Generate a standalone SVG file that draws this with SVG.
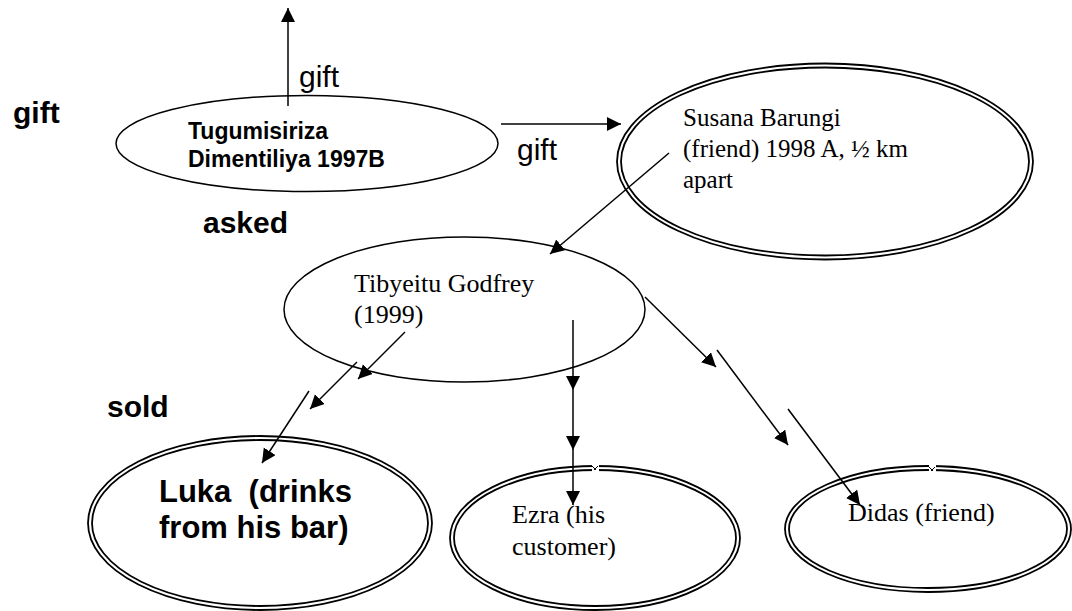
<svg xmlns="http://www.w3.org/2000/svg" width="1072" height="611" viewBox="0 0 1072 611">
<style>
.bg{fill:#fff}
.e1{fill:none;stroke:#000;stroke-width:1.5}
.e2{fill:none;stroke:#000;stroke-width:1.8}
.ln{fill:none;stroke:#000;stroke-width:1.5;marker-end:url(#ah)}
.sb{font-family:"Liberation Sans",Arial,sans-serif;font-weight:bold;fill:#000}
.sr{font-family:"Liberation Sans",Arial,sans-serif;fill:#000}
.tr{font-family:"Liberation Serif","Times New Roman",serif;fill:#000}
.notch{fill:#fff;stroke:none}
.nl{fill:none;stroke:#000;stroke-width:1}
</style>
<defs>
<marker id="ah" markerUnits="userSpaceOnUse" markerWidth="16" markerHeight="16" refX="14" refY="7" orient="auto">
<path d="M0,0 L14,7 L0,14 Z" fill="#000"/>
</marker>
</defs>
<rect class="bg" x="0" y="0" width="1072" height="611"/>

<g id="labels">
<text class="sb" x="13" y="123" font-size="30">gift</text>
<text class="sr" x="299" y="87" font-size="30">gift</text>
<text class="sr" x="517" y="160" font-size="30">gift</text>
<text class="sb" x="203" y="233" font-size="30">asked</text>
<text class="sb" x="107" y="417" font-size="30">sold</text>
</g>

<g id="node-tugumisiriza">
<ellipse class="e1" cx="307" cy="143.5" rx="191" ry="48"/>
<text class="sb" font-size="23"><tspan x="188" y="139">Tugumisiriza</tspan><tspan x="188" y="167">Dimentiliya 1997B</tspan></text>
</g>

<g id="node-susana">
<ellipse class="e2" cx="825" cy="161.5" rx="208" ry="98"/>
<ellipse class="e2" cx="825" cy="161.5" rx="204" ry="94"/>
<text class="tr" font-size="25"><tspan x="683" y="126">Susana Barungi</tspan><tspan x="683" y="157">(friend) 1998 A, ½ km</tspan><tspan x="683" y="188">apart</tspan></text>
</g>

<g id="node-tibyeitu">
<ellipse class="e1" cx="464.5" cy="309.5" rx="180.5" ry="72.5"/>
<text class="tr" font-size="26"><tspan x="354" y="292">Tibyeitu Godfrey</tspan><tspan x="354" y="323">(1999)</tspan></text>
</g>

<g id="node-luka">
<ellipse class="e2" cx="260" cy="523" rx="172" ry="87"/>
<ellipse class="e2" cx="260" cy="523" rx="168" ry="83"/>
<text class="sb" font-size="31"><tspan x="159" y="502">Luka&#160; (drinks</tspan><tspan x="159" y="538">from his bar)</tspan></text>
</g>

<g id="node-ezra">
<ellipse class="e2" cx="595" cy="538" rx="145" ry="72"/>
<ellipse class="e2" cx="595" cy="538" rx="141" ry="68"/>
<rect class="notch" x="592" y="463" width="7" height="10"/>
<path class="nl" d="M592,466 L596,470 M594,470 L598,466"/>
<text class="tr" font-size="26"><tspan x="512" y="523">Ezra (his</tspan><tspan x="512" y="555">customer)</tspan></text>
</g>

<g id="node-didas">
<ellipse class="e2" cx="928" cy="529" rx="143" ry="63"/>
<ellipse class="e2" cx="928" cy="529" rx="139" ry="59"/>
<rect class="notch" x="929" y="464" width="7" height="10"/>
<path class="nl" d="M929,467 L933,471 M931,471 L935,467"/>
<text class="tr" font-size="26"><tspan x="848" y="521">Didas (friend)</tspan></text>
</g>

<g id="connectors">
<line class="ln" x1="288" y1="106" x2="288" y2="8"/>
<line class="ln" x1="501" y1="124" x2="621" y2="124"/>
<line class="ln" x1="669" y1="153" x2="550" y2="254"/>
<line class="ln" x1="405" y1="332" x2="358" y2="379"/>
<line class="ln" x1="357" y1="362" x2="310" y2="409"/>
<line class="ln" x1="309" y1="391" x2="262" y2="463"/>
<line class="ln" x1="573" y1="320" x2="573" y2="390"/>
<line class="ln" x1="573" y1="390" x2="573" y2="450"/>
<line class="ln" x1="573" y1="450" x2="573" y2="505"/>
<line class="ln" x1="645" y1="297" x2="716" y2="367"/>
<line class="ln" x1="717" y1="350" x2="788" y2="445"/>
<line class="ln" x1="788" y1="409" x2="860" y2="505"/>
</g>
</svg>
